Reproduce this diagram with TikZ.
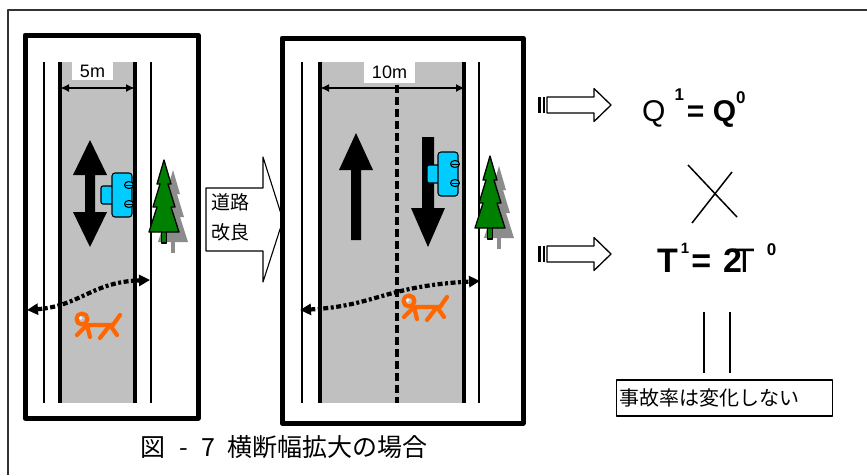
\documentclass[tikz,border=0pt]{standalone}
\usepackage{fontspec}
\setmainfont{Liberation Sans}
\newfontfamily\jp{Noto Sans CJK JP}
\usetikzlibrary{arrows.meta}
\definecolor{roadGray}{HTML}{C0C0C0}
\definecolor{carCyan}{HTML}{00CCFF}
\definecolor{firGreen}{HTML}{008000}
\definecolor{firShade}{HTML}{8C8C8C}
\definecolor{dogOrange}{HTML}{FF6600}

\begin{document}
\begin{tikzpicture}[x=1pt,y=-1pt,line join=round]
\useasboundingbox[fill=white] (0,0) rectangle (867,475);
\tikzset{panel/.style={draw=black,line width=5pt},roadedge/.style={line width=4pt},thinedge/.style={line width=2.6pt},
  lblbox/.style={fill=white,inner sep=0pt,font=\fontsize{18}{18}\selectfont},
  dim/.style={line width=2.2pt,{Latex[length=9pt,width=8pt]}-{Latex[length=9pt,width=8pt]}},
  crossing/.style={line width=4.2pt,dash pattern=on 5pt off 2.5pt on 3pt off 2.5pt,{Triangle[length=11pt,width=11pt]}-{Triangle[length=11pt,width=11pt]}},
  dogline/.style={draw=dogOrange,line width=4.2pt,line cap=round},
  fir/.pic={
    \fill[firShade] (9,10) -- (16,34) -- (13,34) -- (20,57) -- (16,57) -- (24,82) -- (-6,82) -- (2,57) -- (-2,57) -- (5,34) -- (2,34) -- cycle;
    \fill[firShade] (7,80) rectangle (11,93);
    \draw[fill=firGreen,line width=1.3pt] (-2.5,70) rectangle (2.5,83);
    \draw[fill=firGreen,line width=1.3pt] (0,0) -- (7,24) -- (4,24) -- (11,47) -- (7,47) -- (15,72) -- (-15,72) -- (-7,47) -- (-11,47) -- (-4,24) -- (-7,24) -- cycle;
  },
  car/.pic={
    \draw[fill=carCyan,line width=1.1pt,rounded corners=2pt] (-11,13) rectangle (2,31);
    \draw[fill=carCyan,line width=1.1pt,rounded corners=3pt] (0,0) rectangle (20,44);
    \draw[fill=carCyan,line width=1.1pt] (17,12) ellipse (4.5 and 3.5) (17,31) ellipse (4.5 and 3.5);
    \draw[line width=0.9pt] (13.5,12) -- (20.5,12) (13.5,31) -- (20.5,31);
  },
  dog/.pic={
    \draw[dogline] (0,0) circle (5.5);
    \fill[white] (-1.5,-1) circle (1.8);
    \draw[dogline] (4,6) -- (31,6) -- (38,-4);
    \draw[dogline] (5,6) -- (-5,16) (5,6) -- (8,18);
    \draw[dogline] (28,6) -- (18,19) (28,6) -- (35,16);
  },
  flowarrow/.pic={
    \fill (0,-8) rectangle (3,8);
    \fill (4.5,-8) rectangle (7,8);
    \draw[line width=1.3pt,fill=white] (9,-8) -- (56,-8) -- (56,-16.5) -- (73,0) -- (56,16.5) -- (56,8) -- (9,8) -- cycle;
  }}

% frame
\draw[black!80,line width=1.5pt] (867,10) -- (8,10) -- (8,475);

% before: one lane each way
\draw[panel] (25,35) rectangle (198,418);
\fill[roadGray] (60,62) rectangle (135,403);
\draw[roadedge] (60,62) -- (60,403) (135,62) -- (135,403);
\draw[thinedge] (44,62) -- (44,403) (151,62) -- (151,403);
\node[lblbox,minimum width=41pt,minimum height=18pt] (lbl5m) at (92.5,71) {5m};
\draw[dim] (60,88) -- (135,88);
\fill (90,140) -- (107,175) -- (95,175) -- (95,212) -- (107,212) -- (90,247) -- (73,212) -- (85,212) -- (85,175) -- (73,175) -- cycle;
\pic at (112,173) {car};
\pic at (164,160) {fir};
\draw[crossing] (27,310) .. controls (80,306) and (92,282) .. (150,280);
\pic at (82,319) {dog};

% road improvement callout
\draw[fill=white,line width=1.1pt] (206,188) -- (263,188) -- (263,157) -- (283,220) -- (263,282) -- (263,251) -- (206,251) -- cycle;
\node[anchor=north west,align=left,inner sep=0pt,font={\jp\fontsize{19}{30}\selectfont}] (kairyo) at (211,193) {道路\\改良};

% after: widened road
\draw[panel,fill=white] (282,38) rectangle (523,423);
\fill[roadGray] (320,62) rectangle (464,403);
\draw[roadedge] (320,62) -- (320,403) (464,62) -- (464,403);
\draw[thinedge] (302,62) -- (302,403) (479,62) -- (479,403);
\draw[line width=4.5pt,dash pattern=on 8pt off 4pt] (397,85) -- (397,403);
\node[lblbox,minimum width=51pt,minimum height=21pt] (lbl10m) at (389.5,72.5) {10m};
\draw[dim] (320,88) -- (465,88);
\fill (356,133) -- (373,170) -- (361,170) -- (361,240) -- (351,240) -- (351,170) -- (339,170) -- cycle;
\fill (422,137) -- (434,137) -- (434,208) -- (445,208) -- (428,247) -- (411,208) -- (422,208) -- cycle;
\pic at (438,152) {car};
\pic at (490,156) {fir};
\draw[crossing] (300,310) .. controls (375,306) and (385,286) .. (480,281);
\pic at (409,301) {dog};

% results
\pic at (538,105) {flowarrow};
\pic at (538,254) {flowarrow};
\node[anchor=base west,inner sep=0pt,font=\fontsize{30}{30}\selectfont] (eqQ) at (642,121)
  {Q\kern9pt\raisebox{21pt}{\fontsize{17}{17}\selectfont\bfseries 1}\kern3pt\textbf{=}\ \textbf{Q}\raisebox{18pt}{\fontsize{17}{17}\selectfont\bfseries 0}};
\draw[line width=1.5pt] (688,165) -- (737,217) (732,172) -- (692,223);
\node[anchor=base west,inner sep=0pt,font=\fontsize{34}{34}\selectfont\bfseries] (eqT) at (657,272)
  {T\kern3pt\raisebox{19pt}{\fontsize{15}{15}\selectfont 1}\kern2pt=\kern12pt2\kern-8pt{\mdseries T}\kern12pt\raisebox{17pt}{\fontsize{17}{17}\selectfont 0}};
\draw[line width=1.5pt] (704,312) -- (704,373) (730,312) -- (730,373);
\node[draw,line width=1.3pt,anchor=west,minimum width=216pt,minimum height=36pt,inner sep=3pt,text width=210pt,
  font={\jp\fontsize{20}{20}\selectfont}] (nochange) at (616,398) {事故率は変化しない};

% caption
\node[anchor=base west,inner sep=0pt,font={\jp\fontsize{25}{25}\selectfont}] (caption) at (140,456)
  {図\kern14pt-\kern14pt7\kern12pt横断幅拡大の場合};
\end{tikzpicture}
\end{document}
